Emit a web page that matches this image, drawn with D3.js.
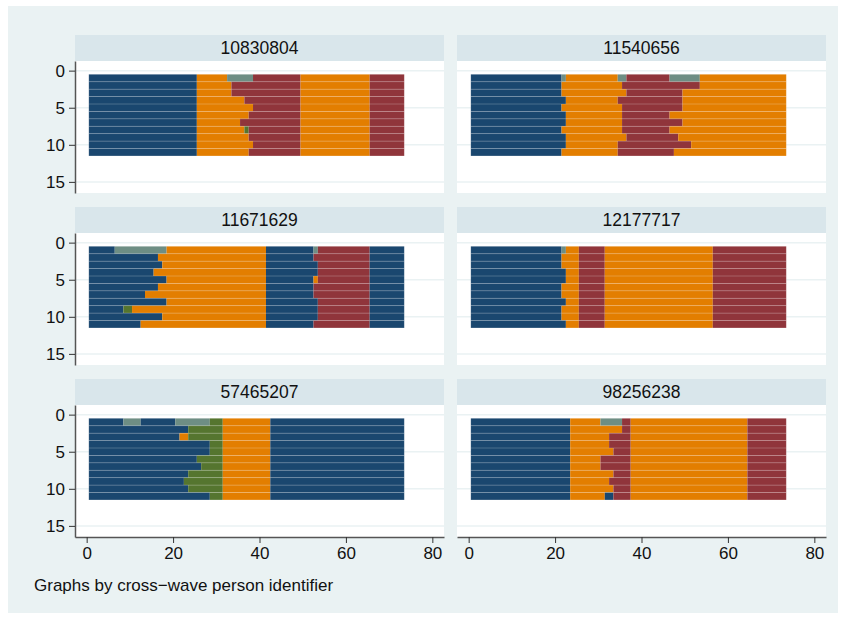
<!DOCTYPE html>
<html>
<head>
<meta charset="utf-8">
<script src="https://cdn.jsdelivr.net/npm/d3@7"></script>
<style>
  body { margin: 0; background: #ffffff; }
  text { font-family: "Liberation Sans", Arial, sans-serif; fill: #111; }
</style>
</head>
<body>
<div id="chart"></div>
<script>
// DATA
// state codes: 1 navy, 2 maroon, 3 green, 4 orange, 5 teal
const STATE_COLORS = ["#1a476f", "#90353b", "#55752f", "#e37e00", "#6e8e84"];
const panelIds = ["10830804", "11540656", "11671629", "12177717", "57465207", "98256238"];
const xTicks = [0, 20, 40, 60, 80];
const yTicks = [0, 5, 10, 15];

// each row = list of [state, last time point of spell]
const seq10830804 = [
  [[1, 25], [4, 32], [5, 38], [2, 49], [4, 65], [2, 73]],
  [[1, 25], [4, 33], [2, 49], [4, 65], [2, 73]],
  [[1, 25], [4, 33], [2, 49], [4, 65], [2, 73]],
  [[1, 25], [4, 36], [2, 49], [4, 65], [2, 73]],
  [[1, 25], [4, 38], [2, 49], [4, 65], [2, 73]],
  [[1, 25], [4, 37], [2, 49], [4, 65], [2, 73]],
  [[1, 25], [4, 35], [2, 49], [4, 65], [2, 73]],
  [[1, 25], [4, 36], [3, 37], [2, 49], [4, 65], [2, 73]],
  [[1, 25], [4, 37], [2, 49], [4, 65], [2, 73]],
  [[1, 25], [4, 38], [2, 49], [4, 65], [2, 73]],
  [[1, 25], [4, 37], [2, 49], [4, 65], [2, 73]]
];
const seq11540656 = [
  [[1, 21], [5, 22], [4, 34], [5, 36], [2, 46], [5, 53], [4, 73]],
  [[1, 21], [4, 35], [2, 53], [4, 73]],
  [[1, 21], [4, 36], [2, 49], [4, 73]],
  [[1, 22], [4, 34], [2, 49], [4, 73]],
  [[1, 21], [4, 35], [2, 49], [4, 73]],
  [[1, 22], [4, 35], [2, 46], [4, 73]],
  [[1, 22], [4, 35], [2, 49], [4, 73]],
  [[1, 21], [4, 35], [2, 46], [4, 73]],
  [[1, 22], [4, 36], [2, 48], [4, 73]],
  [[1, 22], [4, 34], [2, 51], [4, 73]],
  [[1, 21], [4, 34], [2, 47], [4, 73]]
];
const seq11671629 = [
  [[1, 6], [5, 18], [4, 41], [1, 52], [5, 53], [2, 65], [1, 73]],
  [[1, 16], [4, 41], [1, 52], [2, 65], [1, 73]],
  [[1, 17], [4, 41], [1, 53], [2, 65], [1, 73]],
  [[1, 15], [4, 41], [1, 53], [2, 65], [1, 73]],
  [[1, 18], [4, 41], [1, 52], [4, 53], [2, 65], [1, 73]],
  [[1, 16], [4, 41], [1, 52], [2, 65], [1, 73]],
  [[1, 13], [4, 41], [1, 52], [2, 65], [1, 73]],
  [[1, 18], [4, 41], [1, 53], [2, 65], [1, 73]],
  [[1, 8], [3, 10], [4, 41], [1, 53], [2, 65], [1, 73]],
  [[1, 17], [4, 41], [1, 53], [2, 65], [1, 73]],
  [[1, 12], [4, 41], [1, 52], [2, 65], [1, 73]]
];
const seq12177717 = [
  [[1, 21], [5, 22], [4, 25], [2, 31], [4, 56], [2, 73]],
  [[1, 21], [4, 25], [2, 31], [4, 56], [2, 73]],
  [[1, 21], [4, 25], [2, 31], [4, 56], [2, 73]],
  [[1, 22], [4, 25], [2, 31], [4, 56], [2, 73]],
  [[1, 22], [4, 25], [2, 31], [4, 56], [2, 73]],
  [[1, 21], [4, 25], [2, 31], [4, 56], [2, 73]],
  [[1, 21], [4, 25], [2, 31], [4, 56], [2, 73]],
  [[1, 22], [4, 25], [2, 31], [4, 56], [2, 73]],
  [[1, 21], [4, 25], [2, 31], [4, 56], [2, 73]],
  [[1, 21], [4, 25], [2, 31], [4, 56], [2, 73]],
  [[1, 22], [4, 25], [2, 31], [4, 56], [2, 73]]
];
const seq57465207 = [
  [[1, 8], [5, 12], [1, 20], [5, 28], [3, 31], [4, 42], [1, 73]],
  [[1, 23], [3, 31], [4, 42], [1, 73]],
  [[1, 21], [4, 23], [3, 31], [4, 42], [1, 73]],
  [[1, 28], [3, 31], [4, 42], [1, 73]],
  [[1, 28], [3, 31], [4, 42], [1, 73]],
  [[1, 25], [3, 31], [4, 42], [1, 73]],
  [[1, 26], [3, 31], [4, 42], [1, 73]],
  [[1, 23], [3, 31], [4, 42], [1, 73]],
  [[1, 22], [3, 31], [4, 42], [1, 73]],
  [[1, 23], [3, 31], [4, 42], [1, 73]],
  [[1, 28], [3, 31], [4, 42], [1, 73]]
];
const seq98256238 = [
  [[1, 23], [4, 30], [5, 35], [2, 37], [4, 64], [2, 73]],
  [[1, 23], [4, 35], [2, 37], [4, 64], [2, 73]],
  [[1, 23], [4, 32], [2, 37], [4, 64], [2, 73]],
  [[1, 23], [4, 32], [2, 37], [4, 64], [2, 73]],
  [[1, 23], [4, 33], [2, 37], [4, 64], [2, 73]],
  [[1, 23], [4, 30], [2, 37], [4, 64], [2, 73]],
  [[1, 23], [4, 30], [2, 37], [4, 64], [2, 73]],
  [[1, 23], [4, 33], [2, 37], [4, 64], [2, 73]],
  [[1, 23], [4, 32], [2, 37], [4, 64], [2, 73]],
  [[1, 23], [4, 33], [2, 37], [4, 64], [2, 73]],
  [[1, 23], [4, 31], [1, 33], [2, 37], [4, 64], [2, 73]]
];
const sequences = [seq10830804, seq11540656, seq11671629, seq12177717, seq57465207, seq98256238];

// LAYOUT
const WIDTH = 845;
const HEIGHT = 619;
const COL_X = [75, 457];
const PANEL_W = 369;
const ROW_Y = [35, 207, 379];
const STRIP_H = 26;
const PLOT_H = 132;

const svg = d3
  .select("#chart")
  .append("svg")
  .attr("width", WIDTH)
  .attr("height", HEIGHT);

svg
  .append("rect")
  .attr("x", 8)
  .attr("y", 6)
  .attr("width", 830)
  .attr("height", 607)
  .attr("fill", "#eaf2f3");

const x = d3.scaleLinear().domain([-2.7, 82.7]).range([0, PANEL_W]);
const y = d3.scaleLinear().domain([-1.3, 16.5]).range([0, PLOT_H]);
const color = d3.scaleOrdinal().domain([1, 2, 3, 4, 5]).range(STATE_COLORS);

function styleAxis(g) {
  g.select(".domain").attr("stroke", "#555").attr("stroke-width", 1.5);
  g.selectAll(".tick line").attr("stroke", "#333");
  g.selectAll(".tick text")
    .attr("font-size", "17px")
    .attr("font-family", "Liberation Sans, Arial, sans-serif")
    .attr("fill", "#111");
}

panelIds.forEach((id, i) => {
  const col = i % 2;
  const row = Math.floor(i / 2);
  const px = COL_X[col];
  const py = ROW_Y[row];

  // STRIP
  svg
    .append("rect")
    .attr("x", px)
    .attr("y", py)
    .attr("width", PANEL_W)
    .attr("height", STRIP_H)
    .attr("fill", "#d9e6eb");
  svg
    .append("text")
    .attr("x", px + PANEL_W / 2)
    .attr("y", py + STRIP_H / 2)
    .attr("dy", "0.36em")
    .attr("text-anchor", "middle")
    .attr("font-size", "17.5px")
    .text(id);

  const panel = svg
    .append("g")
    .attr("transform", `translate(${px}, ${py + STRIP_H})`);

  panel
    .append("rect")
    .attr("width", PANEL_W)
    .attr("height", PLOT_H)
    .attr("fill", "#ffffff");

  // GRID
  panel
    .selectAll(".grid")
    .data(yTicks)
    .enter()
    .append("line")
    .attr("x1", 0)
    .attr("x2", PANEL_W)
    .attr("y1", (d) => y(d))
    .attr("y2", (d) => y(d))
    .attr("stroke", "#eaf2f3")
    .attr("stroke-width", 1.5);

  // SEQUENCES
  const rows = sequences[i];
  const spells = [];
  rows.forEach((r, ri) => {
    let start = 0;
    r.forEach(([state, end]) => {
      spells.push({ row: ri + 1, state: state, start: start, end: end });
      start = end;
    });
  });

  panel
    .selectAll(".spell")
    .data(spells)
    .enter()
    .append("rect")
    .attr("x", (d) => x(d.start + 0.5))
    .attr("y", (d) => y(d.row - 0.5))
    .attr("width", (d) => x(d.end + 0.5) - x(d.start + 0.5))
    .attr("height", y(1) - y(0))
    .attr("fill", (d) => color(d.state));

  panel
    .selectAll(".rowline")
    .data(rows)
    .enter()
    .append("rect")
    .attr("x", x(0.5))
    .attr("y", (d, ri) => y(ri + 0.5))
    .attr("width", x(73.5) - x(0.5))
    .attr("height", y(1) - y(0))
    .attr("fill", "none")
    .attr("stroke", "rgba(255,255,255,0.14)")
    .attr("stroke-width", 0.8);

  // AXIS
  if (col === 0) {
    panel
      .append("g")
      .call(d3.axisLeft(y).tickValues(yTicks).tickSizeInner(6).tickSizeOuter(0).tickPadding(4))
      .call(styleAxis);
  }
  if (row === 2) {
    panel
      .append("g")
      .attr("transform", `translate(0, ${PLOT_H})`)
      .call(d3.axisBottom(x).tickValues(xTicks).tickSizeInner(6).tickSizeOuter(0).tickPadding(4))
      .call(styleAxis);
  }
});

// NOTE
svg
  .append("text")
  .attr("x", 34)
  .attr("y", 591)
  .attr("font-size", "17px")
  .text("Graphs by cross\u2212wave person identifier");
</script>
</body>
</html>
